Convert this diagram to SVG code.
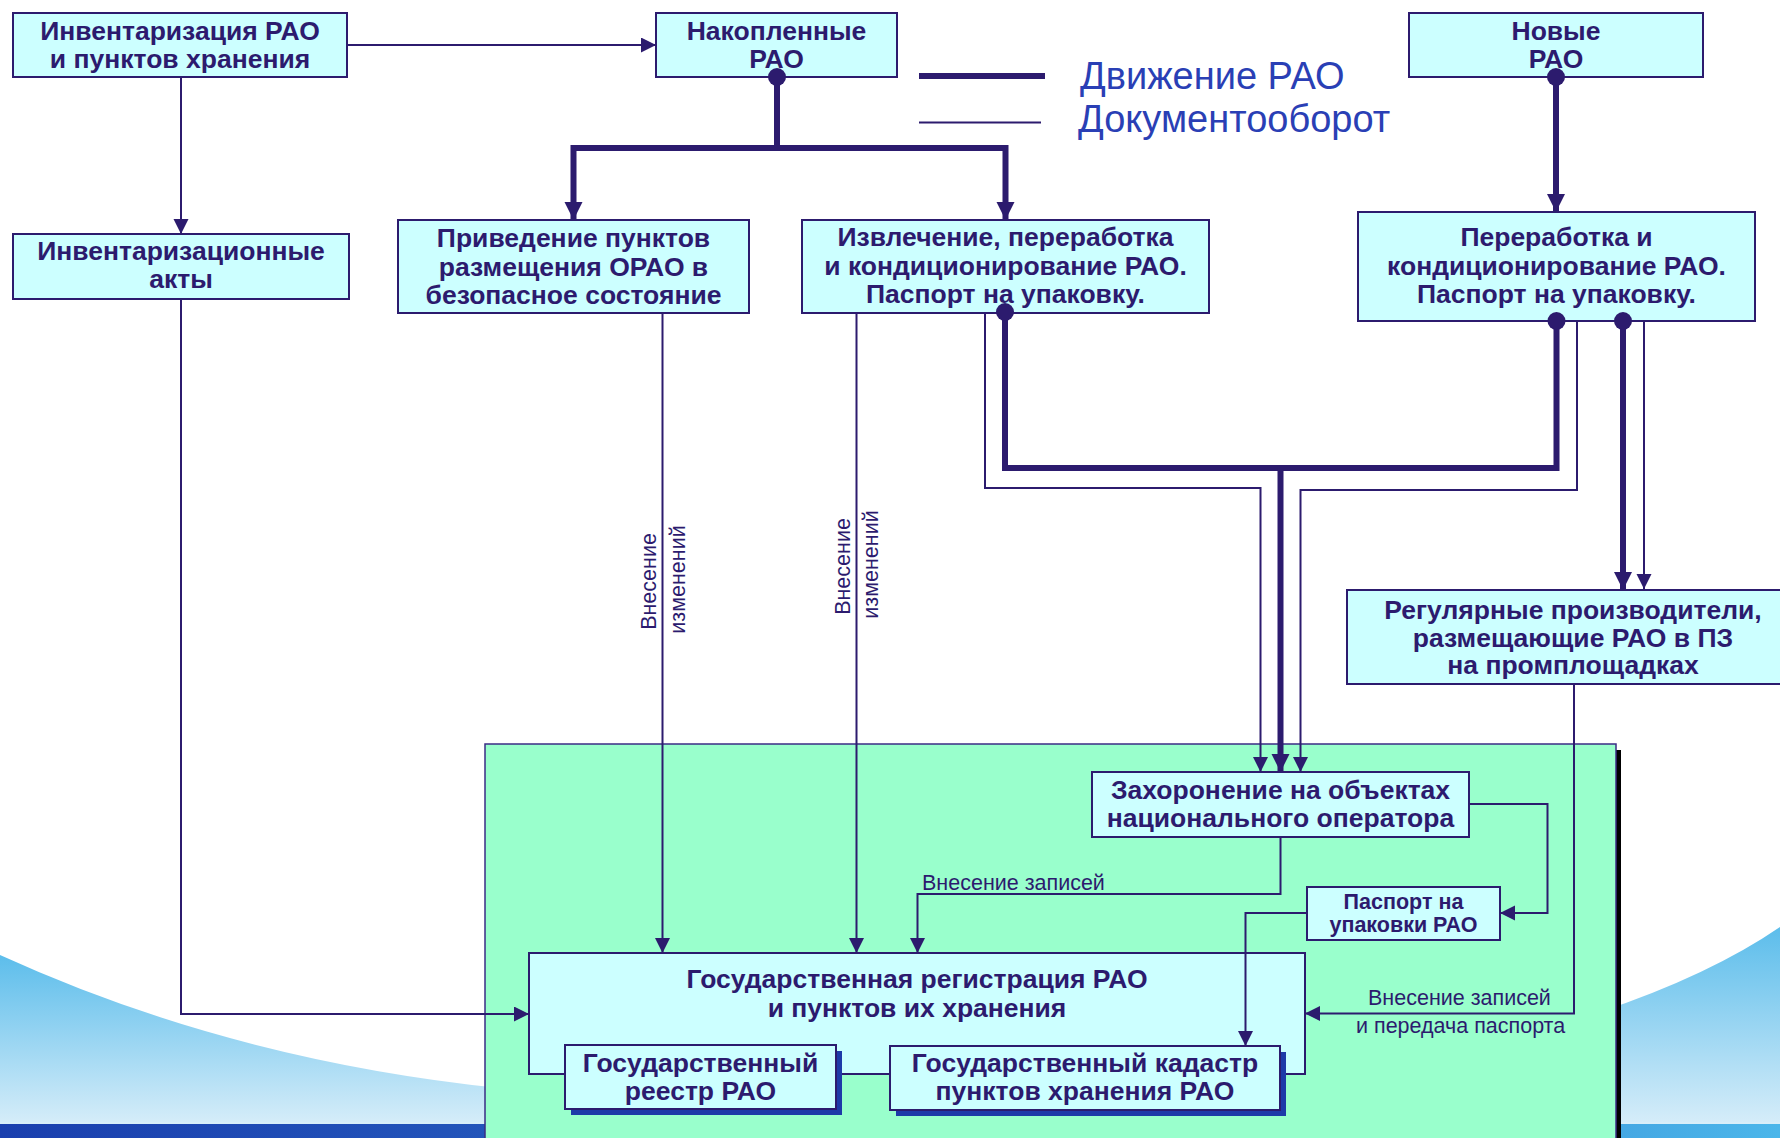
<svg xmlns="http://www.w3.org/2000/svg" width="1780" height="1138" viewBox="0 0 1780 1138">
<defs>
  <linearGradient id="swL" x1="0" y1="0" x2="0" y2="1">
    <stop offset="0" stop-color="#5cbdeb"/>
    <stop offset="1" stop-color="#d6edf9"/>
  </linearGradient>
  <linearGradient id="swR" x1="0" y1="0" x2="0" y2="1">
    <stop offset="0" stop-color="#5cbdeb"/>
    <stop offset="1" stop-color="#d6edf9"/>
  </linearGradient>
  <linearGradient id="band" x1="0" y1="0" x2="1" y2="0">
    <stop offset="0" stop-color="#1a3fae"/>
    <stop offset="0.5" stop-color="#2a66c4"/>
    <stop offset="1" stop-color="#4bb6ea"/>
  </linearGradient>
  <marker id="aThin" markerUnits="userSpaceOnUse" markerWidth="16" markerHeight="16" refX="15" refY="7.5" orient="auto">
    <path d="M0,0 L15,7.5 L0,15 Z" fill="#2c1b6e"/>
  </marker>
  <marker id="aThick" markerUnits="userSpaceOnUse" markerWidth="19" markerHeight="19" refX="18" refY="9" orient="auto">
    <path d="M0,0 L18,9 L0,18 Z" fill="#2c1b6e"/>
  </marker>
</defs>
<style>
  .box { fill: #ccffff; stroke: #2c1b6e; stroke-width: 2; }
  .shadow { fill: #1d3aa8; }
  .t { font-family: "Liberation Sans", Arial, sans-serif; font-weight: bold; font-size: 26.5px; fill: #2c1b6e; text-anchor: middle; }
  .ts { font-family: "Liberation Sans", Arial, sans-serif; font-weight: bold; font-size: 21.5px; fill: #2c1b6e; text-anchor: middle; }
  .lbl { font-family: "Liberation Sans", Arial, sans-serif; font-size: 21.5px; fill: #2c1b6e; }
  .leg { font-family: "Liberation Sans", Arial, sans-serif; font-size: 38px; fill: #2a3fb5; }
  .thin { fill: none; stroke: #2c1b6e; stroke-width: 2; }
  .thick { fill: none; stroke: #2c1b6e; stroke-width: 6; }
  .dot { fill: #2c1b6e; }
</style>

<!-- background -->
<rect x="0" y="0" width="1780" height="1138" fill="#ffffff"/>
<path d="M0,955 Q230,1060 500,1088 L500,1124 L0,1124 Z" fill="url(#swL)"/>
<path d="M1600,1012 Q1710,975 1780,927 L1780,1124 L1600,1124 Z" fill="url(#swR)"/>
<rect x="0" y="1122" width="1780" height="2" fill="#d8eef9"/>
<rect x="0" y="1124" width="1780" height="14" fill="url(#band)"/>

<!-- green panel -->
<g id="panel">
  <rect x="1616" y="750" width="5" height="400" fill="#000000"/>
  <rect x="485" y="744" width="1131" height="400" fill="#99ffcc" stroke="#3b2d85" stroke-width="1.5"/>
</g>

<!-- legend -->
<g id="legend">
  <line x1="919" y1="76" x2="1045" y2="76" class="thick"/>
  <line x1="919" y1="122.5" x2="1041" y2="122.5" class="thin"/>
  <text class="leg" x="1080" y="89">Движение РАО</text>
  <text class="leg" x="1078" y="132">Документооборот</text>
</g>

<g id="n-inventory">
  <rect class="box" x="13" y="13" width="334" height="64"/>
  <text class="t" x="180" y="40">Инвентаризация РАО</text>
  <text class="t" x="180" y="68">и пунктов хранения</text>
</g>
<g id="n-accumulated">
  <rect class="box" x="656" y="13" width="241" height="64"/>
  <text class="t" x="776.5" y="40">Накопленные</text>
  <text class="t" x="776.5" y="68">РАО</text>
</g>
<g id="n-new">
  <rect class="box" x="1409" y="13" width="294" height="64"/>
  <text class="t" x="1556" y="40">Новые</text>
  <text class="t" x="1556" y="68">РАО</text>
</g>
<g id="n-acts">
  <rect class="box" x="13" y="234" width="336" height="65"/>
  <text class="t" x="181" y="260">Инвентаризационные</text>
  <text class="t" x="181" y="288">акты</text>
</g>
<g id="n-safe">
  <rect class="box" x="398" y="220" width="351" height="93"/>
  <text class="t" x="573.5" y="247">Приведение пунктов</text>
  <text class="t" x="573.5" y="276">размещения ОРАО в</text>
  <text class="t" x="573.5" y="304">безопасное состояние</text>
</g>
<g id="n-extract">
  <rect class="box" x="802" y="220" width="407" height="93"/>
  <text class="t" x="1005.5" y="246">Извлечение, переработка</text>
  <text class="t" x="1005.5" y="275">и кондиционирование РАО.</text>
  <text class="t" x="1005.5" y="303">Паспорт на упаковку.</text>
</g>
<g id="n-process">
  <rect class="box" x="1358" y="212" width="397" height="109"/>
  <text class="t" x="1556.5" y="246">Переработка и</text>
  <text class="t" x="1556.5" y="275">кондиционирование РАО.</text>
  <text class="t" x="1556.5" y="303">Паспорт на упаковку.</text>
</g>
<g id="n-regular">
  <rect class="box" x="1347" y="590" width="440" height="94"/>
  <text class="t" x="1573" y="619">Регулярные производители,</text>
  <text class="t" x="1573" y="647">размещающие РАО в ПЗ</text>
  <text class="t" x="1573" y="674">на промплощадках</text>
</g>
<g id="n-burial">
  <rect class="box" x="1092" y="772" width="377" height="65"/>
  <text class="t" x="1280.5" y="799">Захоронение на объектах</text>
  <text class="t" x="1280.5" y="827">национального оператора</text>
</g>
<g id="n-passport">
  <rect class="box" x="1307" y="887" width="193" height="53"/>
  <text class="ts" x="1403.5" y="909">Паспорт на</text>
  <text class="ts" x="1403.5" y="932">упаковки РАО</text>
</g>
<g id="n-registration">
  <rect class="box" x="529" y="953" width="776" height="121"/>
  <text class="t" x="917" y="988">Государственная регистрация РАО</text>
  <text class="t" x="917" y="1017">и пунктов их хранения</text>
</g>
<g id="n-registry">
  <rect class="shadow" x="571" y="1051" width="271" height="64"/>
  <rect class="box" x="565" y="1045" width="271" height="64"/>
  <text class="t" x="700.5" y="1072">Государственный</text>
  <text class="t" x="700.5" y="1100">реестр РАО</text>
</g>
<g id="n-cadastre">
  <rect class="shadow" x="896" y="1052" width="390" height="64"/>
  <rect class="box" x="890" y="1046" width="390" height="64"/>
  <text class="t" x="1085" y="1072">Государственный кадастр</text>
  <text class="t" x="1085" y="1100">пунктов хранения РАО</text>
</g>

<g id="connectors">
  <!-- document flow (thin) -->
  <path class="thin" d="M347,45 L656,45" marker-end="url(#aThin)"/>
  <path class="thin" d="M181,77 L181,234" marker-end="url(#aThin)"/>
  <path class="thin" d="M181,299 L181,1014 L529,1014" marker-end="url(#aThin)"/>
  <path class="thin" d="M662.5,313 L662.5,953" marker-end="url(#aThin)"/>
  <path class="thin" d="M856.5,313 L856.5,953" marker-end="url(#aThin)"/>
  <path class="thin" d="M985,313 L985,488 L1260.5,488 L1260.5,772" marker-end="url(#aThin)"/>
  <path class="thin" d="M1577,321 L1577,490 L1300.5,490 L1300.5,772" marker-end="url(#aThin)"/>
  <path class="thin" d="M1644,321 L1644,589" marker-end="url(#aThin)"/>
  <path class="thin" d="M1574,684 L1574,1013.5 L1305,1013.5" marker-end="url(#aThin)"/>
  <path class="thin" d="M1280.5,837 L1280.5,894 L917.5,894 L917.5,953" marker-end="url(#aThin)"/>
  <path class="thin" d="M1469.5,804 L1547.5,804 L1547.5,913 L1500,913" marker-end="url(#aThin)"/>
  <path class="thin" d="M1307,913 L1245.5,913 L1245.5,1046" marker-end="url(#aThin)"/>

  <!-- RAO movement (thick) -->
  <path class="thick" d="M777,77 L777,148"/>
  <path class="thick" d="M780,148 L573.5,148 L573.5,220" marker-end="url(#aThick)"/>
  <path class="thick" d="M774,148 L1005.5,148 L1005.5,220" marker-end="url(#aThick)"/>
  <path class="thick" d="M1556,77 L1556,212" marker-end="url(#aThick)"/>
  <path class="thick" d="M1005,312 L1005,468 L1556.5,468 L1556.5,321"/>
  <path class="thick" d="M1280.5,468 L1280.5,772" marker-end="url(#aThick)"/>
  <path class="thick" d="M1623,321 L1623,590" marker-end="url(#aThick)"/>

  <circle class="dot" cx="777" cy="77" r="9"/>
  <circle class="dot" cx="1556" cy="77" r="9"/>
  <circle class="dot" cx="1005" cy="312" r="9"/>
  <circle class="dot" cx="1556.5" cy="321" r="9"/>
  <circle class="dot" cx="1623" cy="321" r="9"/>

  <!-- labels -->
  <text class="lbl" text-anchor="middle" transform="translate(656,581.5) rotate(-90)">Внесение</text>
  <text class="lbl" text-anchor="middle" transform="translate(685,579.5) rotate(-90)">изменений</text>
  <text class="lbl" text-anchor="middle" transform="translate(850,566.5) rotate(-90)">Внесение</text>
  <text class="lbl" text-anchor="middle" transform="translate(878,564.5) rotate(-90)">изменений</text>
  <text class="lbl" x="922" y="890">Внесение записей</text>
  <text class="lbl" x="1368" y="1005">Внесение записей</text>
  <text class="lbl" x="1356" y="1033">и передача паспорта</text>
</g>
</svg>
